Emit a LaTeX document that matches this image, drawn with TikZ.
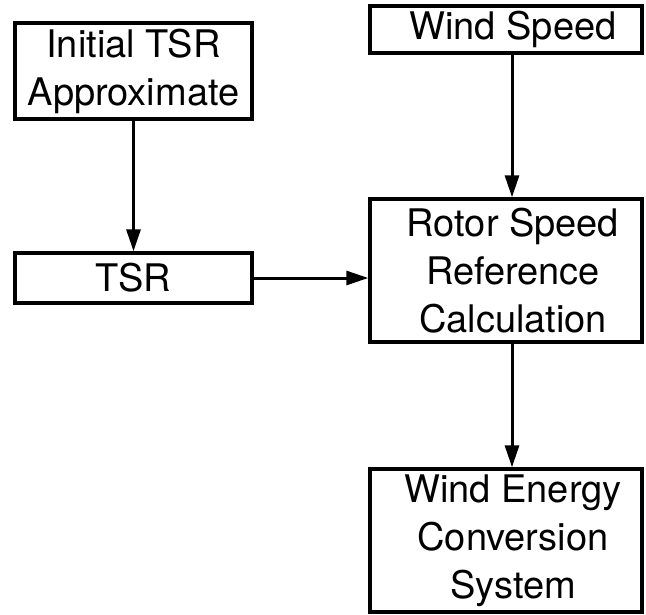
\documentclass[tikz,border=0pt]{standalone}
\usepackage{fontspec}
\setmainfont{TeX Gyre Heros}
\usetikzlibrary{arrows.meta}
\newcommand\shiftln{\hspace*{14pt}}
\begin{document}
\begin{tikzpicture}[x=1pt,y=-1pt,
  box/.style={draw, line width=3.4pt, inner sep=0pt, align=center,
    font=\fontsize{38}{48}\selectfont},
  arr/.style={line width=3pt, -{Triangle[length=22pt,width=14pt]}}]
\useasboundingbox (0,0) rectangle (646,614);
\node[box, minimum width=237pt, minimum height=96pt] (ini) at (133.5,71) {Initial TSR\\Approximate};
\node[box, minimum width=237pt, minimum height=50pt] (tsr) at (133.5,278) {TSR};
\node[box, minimum width=272pt, minimum height=47pt] (ws) at (506,29.5) {\shiftln Wind Speed};
\node[box, minimum width=272pt, minimum height=143pt] (rot) at (506,270.5) {\shiftln Rotor Speed\\\shiftln Reference\\\shiftln Calculation};
\node[box, minimum width=272pt, minimum height=143pt] (wecs) at (506,540.5) {\shiftln Wind Energy\\\shiftln Conversion\\\shiftln System};
\draw[arr] (ini.south) -- (tsr.north);
\draw[arr] (tsr.east) -- (rot.west |- tsr.east);
\draw[arr] ([xshift=6pt]ws.south) -- ([xshift=6pt]rot.north);
\draw[arr] ([xshift=6pt]rot.south) -- ([xshift=6pt]wecs.north);
\end{tikzpicture}
\end{document}
